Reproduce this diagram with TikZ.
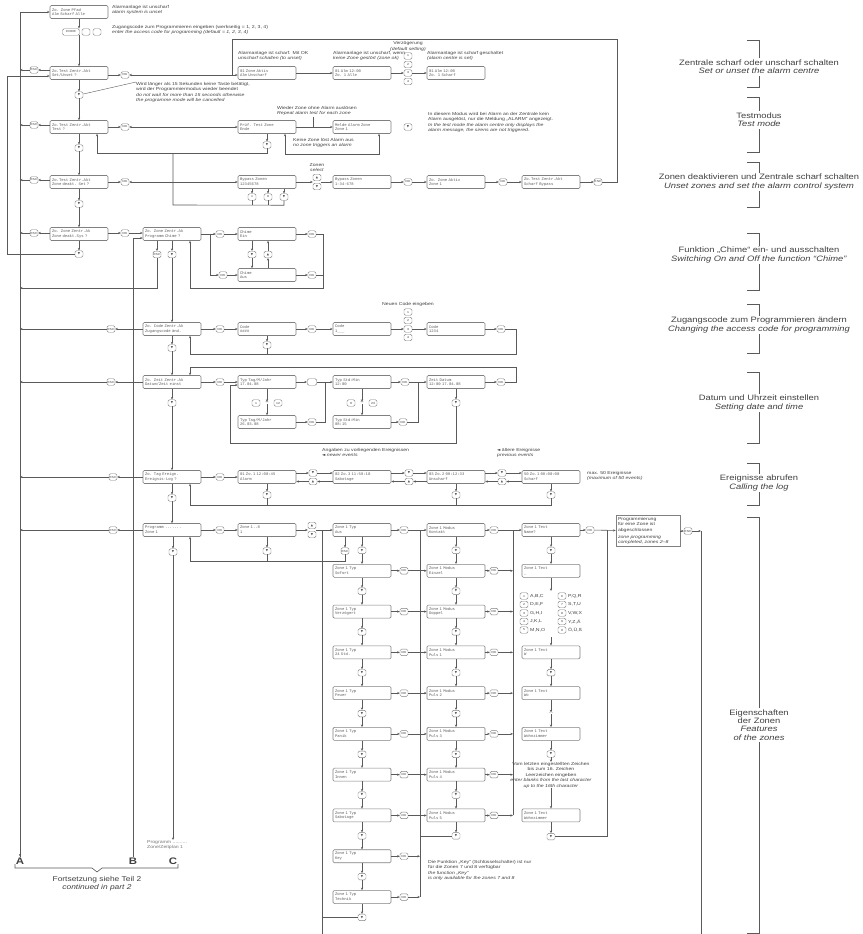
\documentclass[tikz,border=0pt]{standalone}
\usepackage{fontspec}
\setmainfont{Liberation Sans}[FakeStretch=1.2]
\newfontfamily\monof{Liberation Mono}
\newfontfamily\symf{DejaVu Sans}
\usetikzlibrary{arrows.meta,calc}
\definecolor{lc}{HTML}{5A5A5A}
\definecolor{bc}{HTML}{808080}
\definecolor{tc}{HTML}{404040}
\newcommand\lcdf{\monof\fontsize{3.9}{4.7}\selectfont}
\newcommand\keyf{\fontsize{2.9}{3}\selectfont}
\newcommand\notef{\fontsize{4.3}{5.5}\selectfont}
\newcommand\labf{\fontsize{7.8}{8.4}\selectfont}
\newcommand\abcf{\fontsize{9.5}{10}\selectfont\bfseries}
\newcommand\fsf{\fontsize{7}{8}\selectfont}
\newcommand\LCD[4]{\node[lcd] (#1) at (#2) {#3\\#4};}
\newcommand\KEY[3]{\node[kb] (#1) at (#2) {#3};}
\newcommand\dnk{{\symf ▼}}
\newcommand\upk{{\symf ▲}}
\newcommand\lfk{{\symf ◄}}
\begin{document}
\begin{tikzpicture}[x=1pt,y=-1pt,
  lcd/.style={draw=bc, rounded corners=1.2pt, line width=0.55pt, text width=54pt, minimum height=13pt, inner xsep=2pt, inner ysep=0.8pt, font=\lcdf, align=left, text=tc!85},
  kb/.style={draw=bc, rounded corners=1.5pt, line width=0.45pt, minimum width=8pt, minimum height=6.5pt, inner sep=0.4pt, font=\keyf, text=tc},
  ln/.style={draw=lc, line width=0.6pt},
  ar/.style={ln, -{Stealth[length=2.6pt,width=2.2pt]}},
  arr/.style={ln, {Stealth[length=2.6pt,width=2.2pt]}-{Stealth[length=2.6pt,width=2.2pt]}},
  nt/.style={font=\notef, align=left, inner sep=0pt, anchor=north west, text=tc},
  lab/.style={font=\labf, align=center, fill=white, inner sep=1.5pt, text=tc},
]
\useasboundingbox (0,0) rectangle (862,934);
\fill[white] (0,0) rectangle (862,934);

% ---------------- right-hand labels ----------------
\newcommand\BRK[5]{\draw[ln] (747,#2) -- (759,#2) -- (759,#3) -- (747,#3); \node[lab] (#1) at (759,#4) {#5};}
\BRK{L1}{40}{87}{67}{Zentrale scharf oder unscharf schalten\\\textit{Set or unset the alarm centre}}
\BRK{L2}{97}{152}{120}{Testmodus\\\textit{Test mode}}
\BRK{L3}{162}{207}{182}{Zonen deaktivieren und Zentrale scharf schalten\\\textit{Unset zones and set the alarm control system}}
\BRK{L4}{233}{290}{255}{Funktion „Chime“ ein- und ausschalten\\\textit{Switching On and Off the function “Chime”}}
\BRK{L5}{304}{353}{325}{Zugangscode zum Programmieren ändern\\\textit{Changing the access code for programming}}
\BRK{L6}{372}{443}{403}{Datum und Uhrzeit einstellen\\\textit{Setting date and time}}
\BRK{L7}{463}{505}{483}{Ereignisse abrufen\\\textit{Calling the log}}
\BRK{L8}{517}{933}{725}{Eigenschaften\\der Zonen\\\textit{Features}\\\textit{of the zones}}

% ---------------- left trunk lines ----------------
\coordinate (aT) at (20,12);
\node[font=\abcf,text=tc,inner sep=1pt] (A) at (20,861) {A};
\node[font=\abcf,text=tc,inner sep=1pt] (B) at (133,861) {B};
\node[font=\abcf,text=tc,inner sep=1pt] (C) at (173,861) {C};

% ---------------- row 0 ----------------
\LCD{b00}{79,12}{Zo. Zone  Pfad}{Alm   Scharf  Alle}
\node[nt] (n00) at (112,5) {Alarmanlage ist unscharf\\\textit{alarm system is unset}};
\node[kb,minimum width=17pt] (kc) at (71,32) {CODE};
\KEY{kd1}{86,32}{}
\KEY{kd2}{97,32}{}
\node[nt] (n01) at (112,25) {Zugangscode zum Programmieren eingeben (werkseitig = 1, 2, 3, 4)\\\textit{enter the access code for programming (default = 1, 2, 3, 4)}};
\draw[ln] (aT) -- (A.north);
\draw[ar] ($(A.north)+(0,-6)$) -- (A.north);
\draw[ar] (aT) -- (b00);
\draw[ar] (b00.south) -- (b00.south |- kc.north);

% ---------------- row 1 ----------------
\LCD{b10}{79,73}{Zo.Test Zentr.Akt}{Set/Unset      ?}
\draw[ar] (kc.south -| b10.north) -- (b10.north);
\KEY{k10}{34,70}{ESC}
\draw[ar] (b10.west |- k10) -- (k10);
\draw[ar] (k10) -- (k10 -| aT);
\KEY{k11}{125,75}{OK}
\draw[ar] (b10.east |- k11) -- (k11);
\LCD{b12}{267,73}{01 Zone   Aktiv}{Alm    Unscharf}
\draw[arr] (k11) -- (k11 -| b12.west);
\node[nt] (n12a) at (238,51) {Alarmanlage ist scharf. Mit OK\\\textit{unscharf schalten (to unset)}};
\LCD{b13}{362,73}{01 Alm     12:00}{Zo. 1      Alle}
\draw[ar] (b12) -- (b13);
\node[nt] (n13) at (333,51) {Alarmanlage ist unscharf, wenn\\\textit{keine Zone gestört (zone ok)}};
\KEY{s1}{408,56}{1}
\KEY{s2}{408,64.5}{2}
\KEY{s3}{408,73}{3}
\KEY{s4}{408,81.5}{4}
\node[nt,anchor=south,align=center] (nvz) at (408,51.5) {Verzögerung\\\textit{(default setting)}};
\LCD{b14}{456,73}{01 Alm     12:00}{Zo. 1    Scharf}
\draw[ar] (b13) -- (s3);
\draw[ar] (s3) -- (b14);
\node[nt] (n14) at (427,51) {Alarmanlage ist scharf geschaltet\\\textit{(alarm centre is set)}};

% ---------------- row 1 -> 2 ----------------
\KEY{k12}{79,95}{\dnk}
\draw[ar] (b10) -- (k12);
\node[nt] (n15) at (136,82) {Wird länger als 15 Sekunden keine Taste betätigt,\\wird der Programmiermodus wieder beendet\\\textit{do not wait for more than 15 seconds otherwise}\\\textit{the programme mode will be cancelled}};
\draw[ln,line width=0.4pt] (k12) -- (n15.north west);

% ---------------- row 2 ----------------
\LCD{b20}{79,127}{Zo.Test Zentr.Akt}{Test           ?}
\draw[ar] (k12) -- (b20);
\KEY{k20}{34,125}{ESC}
\draw[ar] (b20.west |- k20) -- (k20);
\draw[ar] (k20) -- (k20 -| aT);
\KEY{k21}{125,127}{OK}
\draw[ar] (b20) -- (k21);
\LCD{b22}{267,127}{Prüf. Test Zone}{Ende}
\draw[arr] (k21) -- (b22);
\KEY{k22}{267,145}{\dnk}
\draw[ar] (b22) -- (k22);
\draw[ar] (k22.south) -- ++(0,4.75) -| ($(b20.south)+(18,0)$);
\LCD{b23}{362,127}{Melde Alarm Zone}{Zone 1}
\draw[ar] (b22) -- (b23);
\node[nt] (n22) at (277,106) {Wieder Zone ohne Alarm auslösen\\\textit{Repeat alarm test for each zone}};
\draw[ln] (313,117) -- (313,127);
\draw[arr] ($(b22.south)+(18,0)$) -- ++(0,20.5) -| ($(b23.south)+(17,0)$);
\node[nt] (n23) at (293,138) {Keine Zone löst Alarm aus\\\textit{no zone triggers an alarm}};
\KEY{k23}{408,127}{\dnk}
\node[nt] (n24) at (428,112) {In diesem Modus wird bei Alarm an der Zentrale kein\\Alarm ausgelöst, nur die Meldung „ALARM“ angezeigt.\\\textit{In the test mode the alarm centre only displays the}\\\textit{alarm message, the sirens are not triggered.}};

% ---------------- row 2 -> 3 ----------------
\KEY{k2a}{79,148}{\dnk}
\draw[ar] (b20) -- (k2a);

% ---------------- row 3 ----------------
\LCD{b30}{79,182}{Zo.Test Zentr.Akt}{Zone deakt. Set ?}
\draw[ar] (k2a) -- (b30);
\KEY{k30}{34,180}{ESC}
\draw[ar] (b30.west |- k30) -- (k30);
\draw[ar] (k30) -- (k30 -| aT);
\KEY{k31}{125,182}{OK}
\draw[ar] (b30) -- (k31);
\LCD{b32}{267,182}{Bypass Zonen}{12345678}
\draw[arr] (k31) -- (b32);
\KEY{k32a}{252,197}{1}
\KEY{k32b}{268,197}{8}
\KEY{k32c}{284,197}{\dnk}
\draw[ar] (k32a |- b32.south) -- (k32a);
\draw[ar] (k32b |- b32.south) -- (k32b);
\draw[ar] (k32c |- b32.south) -- (k32c);
\draw[ln] (k32a.south) -- ++(0,4.75);
\draw[ln] (k32b.south) -- ++(0,4.75);
\draw[ln] (k32c.south) -- ++(0,4.75) -- (173,205) -- (173,153);
\node[nt,anchor=south,align=center] (n33) at (317,172) {Zonen\\\textit{select}};
\KEY{k33a}{317,177.5}{\upk}
\KEY{k33b}{317,186.5}{\dnk}
\LCD{b33}{362,182}{Bypass Zonen}{1-34-678}
\draw[ar] (b32) -- (b32 -| k33a.west);
\draw[ar] (b33 -| k33a.east) -- (b33);
\KEY{k34}{408,182}{OK}
\draw[ar] (b33) -- (k34);
\LCD{b35}{456,182}{Zo. Zone  Aktiv}{Zone 1}
\draw[ar] (k34) -- (b35);
\KEY{k35}{503,182}{OK}
\draw[ar] (b35) -- (k35);
\LCD{b36}{551,182}{Zo.Test Zentr.Akt}{Scharf Bypass}
\draw[ar] (k35) -- (b36);
\KEY{k36}{598,182}{ESC}
\draw[ar] (b36) -- (k36);
\draw[ln] (k36) -- (617,182) -- (617,39) -- (232,39) -- (232,75);

% ---------------- row 3 -> 4 ----------------
\KEY{k3a}{79,204}{\dnk}
\draw[ar] (b30) -- (k3a);

% ---------------- row 4 ----------------
\LCD{b40}{79,234}{Zo. Zone Zentr.Ak}{Zone deakt.Sys ?}
\draw[ar] (k3a) -- (b40);
\KEY{k40}{34,233}{ESC}
\draw[ar] (b40.west |- k40) -- (k40);
\draw[ar] (k40) -- (k40 -| aT);
\KEY{k4b}{79,254}{\dnk}
\draw[ar] (b40) -- (k4b);
\draw[ar] (k4b) -- (7,254) -- (7,76) -- ($(b10.west)+(0,3)$);
\KEY{k41}{125,233}{OK}
\draw[ar] (b40.east |- k41) -- (k41);
\LCD{b42}{172,234}{Zo. Zone Zentr.Ak}{Programm Chime ?}
\draw[ar] (k41) -- (k41 -| b42.west);
\draw[ar] (B.north) |- ($(b42.west)+(0,4)$);
\coordinate (j42) at (210,234);
\KEY{k42}{220,234}{OK}
\draw[ar] (b42) -- (k42);
\LCD{b43}{267,234}{Chime}{Ein}
\draw[ar] (k42) -- (b43);
\KEY{k44}{223,275}{OK}
\draw[ar] (j42) |- (k44);
\LCD{b44}{267,275}{Chime}{Aus}
\draw[ar] (k44) -- (b44);
\KEY{k43a}{252,254.5}{\dnk}
\KEY{k43b}{268,254.5}{\upk}
\draw[ar] (k43a |- b43.south) -- (k43a);
\draw[ar] (k43a) -- (k43a |- b44.north);
\draw[ar] (k43b |- b44.north) -- (k43b);
\draw[ar] (k43b) -- (k43b |- b43.south);
\KEY{k43r}{312,234}{OK}
\KEY{k44r}{312,275}{OK}
\draw[ar] (b43) -- (k43r);
\draw[ar] (b44) -- (k44r);
\draw[ln] (k43r) -- (323,234) -- (323,288) -- (190,288);
\draw[ln] (k44r) -- (323,275);
\draw[ar] (190,288) -- ($(b42.south)+(18,0)$);
\KEY{k42a}{157,254.5}{ESC}
\KEY{k42b}{172,254.5}{\dnk}
\draw[ar] (k42a |- b42.south) -- (k42a);
\draw[ar] (k42a) |- ($(aT)+(0,276)$);
\draw[ar] (b42) -- (k42b);

% ---------------- row 5 ----------------
\LCD{b52}{172,329}{Zo. Code Zentr.Ak}{Zugangscode änd.}
\draw[ar] (k42b) -- (b52);
\KEY{k50}{111,329}{ESC}
\draw[ar] (b52) -- (k50);
\draw[ar] (k50) -- (k50 -| aT);
\KEY{k51}{220,329}{OK}
\draw[ar] (b52) -- (k51);
\LCD{b53}{267,329}{Code}{\#\#\#\#}
\draw[ar] (k51) -- (b53);
\KEY{k53b}{267,345}{\dnk}
\draw[ar] (b53) -- (k53b);
\draw[ln] (k53b.south) -- (267,354);
\KEY{k53}{312,329}{OK}
\draw[ar] (b53) -- (k53);
\LCD{b54}{362,329}{Code}{1\_\_\_}
\draw[ar] (k53) -- (b54);
\node[nt,anchor=south,align=center] (n54) at (408,307) {Neuen Code eingeben};
\KEY{c1}{408,312}{1}
\KEY{c2}{408,320.5}{2}
\KEY{c3}{408,329}{3}
\KEY{c4}{408,337.5}{4}
\draw[ar] (b54) -- (c3);
\LCD{b55}{456,329}{Code}{1234}
\draw[ar] (c3) -- (b55);
\KEY{k55}{501,329}{OK}
\draw[ar] (b55) -- (k55);
\draw[ln] (k55) -- (516,329) -- (516,354) -- (190,354);
\draw[ar] (190,354) -- ($(b52.south)+(18,0)$);

% ---------------- row 6 ----------------
\KEY{k52b}{172,348}{\dnk}
\draw[ar] (b52) -- (k52b);
\LCD{b60}{172,382}{Zo. Zeit Zentr.Ak}{Datum/Zeit einst}
\draw[ar] (k52b) -- (b60);
\KEY{k60}{111,382}{ESC}
\draw[ar] (b60) -- (k60);
\draw[ar] (k60) -- (k60 -| aT);
\KEY{k61}{220,382}{OK}
\draw[ar] (b60) -- (k61);
\LCD{b61}{267,382}{Typ  Tag/M/Jahr}{17.04.08}
\draw[ar] (k61) -- (b61);
\node[kb,minimum width=9.5pt] (k61r) at (312,382) {};
\draw[ar] (b61) -- (k61r);
\LCD{b62}{362,382}{Typ  Std:Min}{12:00}
\draw[ar] (k61r) -- (b62);
\KEY{k62}{405,382}{OK}
\draw[ar] (b62) -- (k62);
\LCD{b63}{456,382}{Zeit    Datum}{12:00   17.04.08}
\draw[ar] (k62) -- (b63);
\KEY{k63}{501,382}{OK}
\draw[ar] (b63) -- (k63);
\draw[ln] (k63) -- (516,382) -- (516,367) -- (190,367);
\draw[ar] (190,367) -- ($(b60.north)+(18,0)$);
\KEY{k61a}{256,403}{1}
\node[font=\notef,inner sep=0.3pt,text=tc] (d61) at (267,403) {–};
\KEY{k61b}{278,403}{12}
\KEY{k62a}{351,403}{0}
\node[font=\notef,inner sep=0.3pt,text=tc] (d62) at (362,403) {–};
\KEY{k62b}{373,403}{23}
\LCD{b64}{267,422}{Typ  Tag/M/Jahr}{26.03.08}
\LCD{b65}{362,422}{Typ  Std:Min}{08:15}
\draw[ar] (b61) -- (d61);
\draw[ar] (d61) -- (b64);
\draw[ar] (b62) -- (d62);
\draw[ar] (d62) -- (b65);
\KEY{k64}{312,422}{OK}
\draw[ar] (b64) -- (k64);
\draw[ln] (k64) -- (325,422) -- (325,382);
\KEY{k65}{403,422}{OK}
\draw[ar] (b65) -- (k65);
\draw[ln] (k65) -- (418,422) -- (418,382);
\KEY{k63b}{456,403}{\dnk}
\draw[ar] (b63) -- (k63b);
\draw[ln] (k63b) -- (456,443) -- (230,443) -- (230,385);
\draw[ar] (230,385) -- ($(b61.west)+(0,3)$);

% ---------------- row 7 ----------------
\KEY{k60b}{172,403}{\dnk}
\draw[ar] (b60) -- (k60b);
\LCD{b70}{172,477}{Zo. Tag Ereign.}{Ereignis-Log   ?}
\draw[ar] (k60b) -- (b70);
\KEY{k70}{113,477}{ESC}
\draw[ar] (b70) -- (k70);
\draw[ar] (k70) -- (k70 -| aT);
\KEY{k71}{220,477}{OK}
\draw[ar] (b70) -- (k71);
\LCD{b71}{267,477}{01 Zo.1 12:00:45}{Alarm}
\draw[ar] (k71) -- (b71);
\LCD{b72}{362,477}{02 Zo.3 11:58:10}{Sabotage}
\LCD{b73}{456,477}{03 Zo.2 09:12:33}{Unscharf}
\LCD{b74}{551,477}{50 Zo.1 08:00:00}{Scharf}
\KEY{e1u}{313,473}{\dnk}
\KEY{e1d}{313,481.5}{\upk}
\KEY{e2u}{409,473}{\dnk}
\KEY{e2d}{409,481.5}{\upk}
\KEY{e3u}{502,473}{\dnk}
\KEY{e3d}{502,481.5}{\upk}
\draw[ar] (b71.east |- e1u) -- (e1u);
\draw[ar] (e1u) -- (e1u -| b72.west);
\draw[ar] (b72.west |- e1d) -- (e1d);
\draw[ar] (e1d) -- (e1d -| b71.east);
\draw[ar] (b72.east |- e2u) -- (e2u);
\draw[ar] (e2u) -- (e2u -| b73.west);
\draw[ar] (b73.west |- e2d) -- (e2d);
\draw[ar] (e2d) -- (e2d -| b72.east);
\draw[ar] (b73.east |- e3u) -- (e3u);
\draw[ar] (e3u) -- (e3u -| b74.west);
\draw[ar] (b74.west |- e3d) -- (e3d);
\draw[ar] (e3d) -- (e3d -| b73.east);
\node[nt] (n71) at (322,448) {Angaben zu vorliegenden Ereignissen\\\lfk\ \textit{newer events}};
\node[nt] (n73) at (497,448) {\lfk\ ältere Ereignisse\\\textit{previous events}};
\node[nt] (n74) at (587,471) {max. 50 Ereignisse\\\textit{(maximum of 50 events)}};
\KEY{e1b}{267,495}{\dnk}
\KEY{e3b}{456,495}{\dnk}
\KEY{e4b}{551,495}{\dnk}
\draw[ar] (b71) -- (e1b);
\draw[ar] (b73) -- (e3b);
\draw[ar] (b74) -- (e4b);
\draw[ln] (e1b.south) -- (267,505);
\draw[ln] (e3b.south) -- (456,505);
\draw[ln] (e4b.south) -- (551,505) -- (190,505);
\draw[ar] (190,505) -- ($(b70.south)+(18,0)$);

% ---------------- row 8 ----------------
\KEY{k70b}{172,498}{\dnk}
\draw[ar] (b70) -- (k70b);
\LCD{b80}{172,530}{Programm .......}{Zone 1}
\draw[ar] (k70b) -- (b80);
\KEY{k80}{113,530}{ESC}
\draw[ar] (b80) -- (k80);
\draw[ar] (k80) -- (k80 -| aT);
\KEY{k81}{220,530}{OK}
\draw[ar] (b80) -- (k81);
\LCD{b81}{267,530}{Zone    1..8}{1}
\draw[ar] (k81) -- (b81);
\KEY{k81u}{312,525.5}{\upk}
\KEY{k81d}{312,534.5}{\dnk}
\KEY{k80b}{173,552}{\dnk}
\draw[ar] (b80.south -| k80b) -- (k80b);
\node[nt,text=tc!70] (ctx) at (147,840) {Programm ..........\\Zone/Zeitplan 1};
\draw[ar] (k80b) -- (ctx.north -| k80b);
\KEY{k81b}{267,551}{\dnk}
\draw[ar] (b81) -- (k81b);
\draw[ln] (k81b.south) -- (267,561);

% zone types
\foreach \i/\tx in {1/Aus,2/Sofort,3/Verzögert,4/24 Std.,5/Feuer,6/Panik,7/Innen,8/Sabotage,9/Key,10/Technik}{
  \pgfmathsetmacro\yy{530+40.78*(\i-1)}
  \node[lcd] (t\i) at (362,\yy) {Zone 1 Typ\\\tx};
  \node[kb] (tr\i) at (404,\yy) {OK};
  \node[kb] (tk\i) at (362,\yy+20.4) {\dnk};
}
\draw[ar] (b81) -- (b81 -| k81u.west);
\draw[ar] (t1 -| k81u.east) -- (t1);
\KEY{k82e}{345,551}{ESC}
\draw[ar] (k82e |- t1.south) -- (k82e);
\draw[ln] (k82e.south) -- (345,561) -- (190,561);
\draw[ar] (190,561) -- ($(b80.south)+(18,0)$);
\foreach \i [evaluate=\i as \j using int(\i+1)] in {1,...,9}{
  \draw[ar] (t\i) -- (tk\i);
  \draw[ar] (tk\i) -- (t\j);
}
\draw[ar] (t10) -- (tk10);
\coordinate (lp) at (322,934);
\draw[ln] (lp) -- (tk10 -| lp);
\draw[ln] (tk10) -- (tk10 -| lp) -- (lp |- t1);
\node[nt] (nkey) at (428,860) {Die Funktion „Key“ (Schlüsselschalter) ist nur\\für die Zonen 7 und 8 verfügbar\\\textit{the function „Key“}\\\textit{is only available for the zones 7 and 8}};

% zone modes
\foreach \i/\tx in {1/Kontakt,2/Einzel,3/Doppel,4/Puls 1,5/Puls 2,6/Puls 3,7/Puls 4,8/Puls 5}{
  \pgfmathsetmacro\yy{530+40.78*(\i-1)}
  \node[lcd] (m\i) at (456,\yy) {Zone 1 Modus\\\tx};
  \node[kb] (mr\i) at (494,\yy) {OK};
  \node[kb] (mk\i) at (456,\yy+20.4) {\dnk};
}
\coordinate (ml) at (420,530);
\foreach \i in {1,...,8}{
  \draw[ar] (t\i) -- (tr\i);
  \draw[ar] (tr\i) -- (m\i);
  \draw[ar] (m\i) -- (mr\i);
}
\foreach \i in {9,10}{
  \draw[ar] (t\i) -- (tr\i);
  \draw[ar] (tr\i) -- (tr\i -| ml);
}
\foreach \i [evaluate=\i as \j using int(\i+1)] in {1,...,7}{
  \draw[ar] (m\i) -- (mk\i);
  \draw[ar] (mk\i) -- (m\j);
}
\draw[ar] (m8) -- (mk8);
\draw[ln] (mk8) -- (mk8 -| ml);
\draw[ln] (ml |- t10) -- (ml);

% zone text
\coordinate (xl) at (513,530);
\LCD{x1}{551,530}{Zone 1 Text}{Name?}
\draw[ar] (mr1) -- (x1);
\foreach \i in {2,...,8}{
  \draw[ar] (mr\i) -- (mr\i -| xl);
}
\draw[ln] (xl |- m8) -- (xl);
\KEY{xk1}{551,550.4}{\dnk}
\LCD{x2}{551,570.8}{Zone 1 Text}{\_}
\draw[ar] (x1) -- (xk1);
\draw[ar] (xk1) -- (x2);
\coordinate (kpT) at (551,591);
\coordinate (kpB) at (551,637);
\draw[ar] (x2) -- (kpT);
\foreach \n/\t/\m/\u [count=\r] in {1/A{,}B{,}C/6/P{,}Q{,}R,2/D{,}E{,}F/7/S{,}T{,}U,3/G{,}H{,}I/8/V{,}W{,}X,4/J{,}K{,}L/9/Y{,}Z{,}Ä,5/M{,}N{,}O/0/Ö{,}Ü{,}ß}{
  \pgfmathsetmacro\yy{596+8.5*(\r-1)}
  \node[kb] (pl\r) at (524,\yy) {\n};
  \node[nt,anchor=west] (plt\r) at (530,\yy) {\t};
  \node[kb] (pr\r) at (562,\yy) {\m};
  \node[nt,anchor=west] (prt\r) at (568,\yy) {\u};
}
\LCD{x3}{551,652.3}{Zone 1 Text}{W}
\draw[ar] (kpB) -- (x3);
\KEY{xk3}{551,672.7}{\dnk}
\LCD{x4}{551,693.1}{Zone 1 Text}{Wo}
\node[font=\notef,inner sep=0.5pt,text=tc] (dots) at (551,713.3) {...};
\LCD{x5}{551,733.9}{Zone 1 Text}{Wohnzimmer}
\draw[ar] (x3) -- (xk3);
\draw[ar] (xk3) -- (x4);
\draw[ar] (x4) -- (dots);
\draw[ar] (dots) -- (x5);
\KEY{xk5}{551,754}{\dnk}
\node[nt,anchor=north,align=center] (xn) at (551,762) {Vom letzten eingestellten Zeichen\\bis zum 16. Zeichen\\Leerzeichen eingeben\\\textit{enter blanks from the last character}\\\textit{up to the 16th character}};
\LCD{x6}{551,815.4}{Zone 1 Text}{Wohnzimmer}
\draw[ar] (x5) -- (xk5);
\draw[ar] (xk5) -- (xn);
\draw[ar] (xn) -- (x6);
\KEY{xk6}{551,836.6}{\dnk}
\draw[ar] (x6) -- (xk6);
\coordinate (xr) at (607,530);
\draw[ln] (xk6) -- (xk6 -| xr) -- (xr);
\node[draw=bc, line width=0.55pt, font=\notef, align=left, text width=60pt, inner sep=2pt, text=tc] (b8c) at (648,531) {Programmierung\\für eine Zone ist\\abgeschlossen\\[1.5pt]\textit{zone programming}\\\textit{completed, zones 2–8}};
\KEY{x1r}{590,530}{OK}
\draw[ar] (x1) -- (x1r);
\draw[ar] (x1r) -- (b8c);
\KEY{k8c}{688,531}{ESC}
\draw[ar] (b8c) -- (k8c);
\coordinate (rr) at (701,934);
\draw[ar] (k8c) -- (k8c -| rr);
\draw[ln] (k8c -| rr) -- (rr);

% ---------------- continuation ----------------
\draw[ln] (15,864) -- (15,868) -- (92,868) -- (97,872) -- (102,868) -- (178,868) -- (178,864);
\node[font=\fsf,align=center,text=tc] (fs) at (97,884) {Fortsetzung siehe Teil 2\\\textit{continued in part 2}};
\end{tikzpicture}
\end{document}
